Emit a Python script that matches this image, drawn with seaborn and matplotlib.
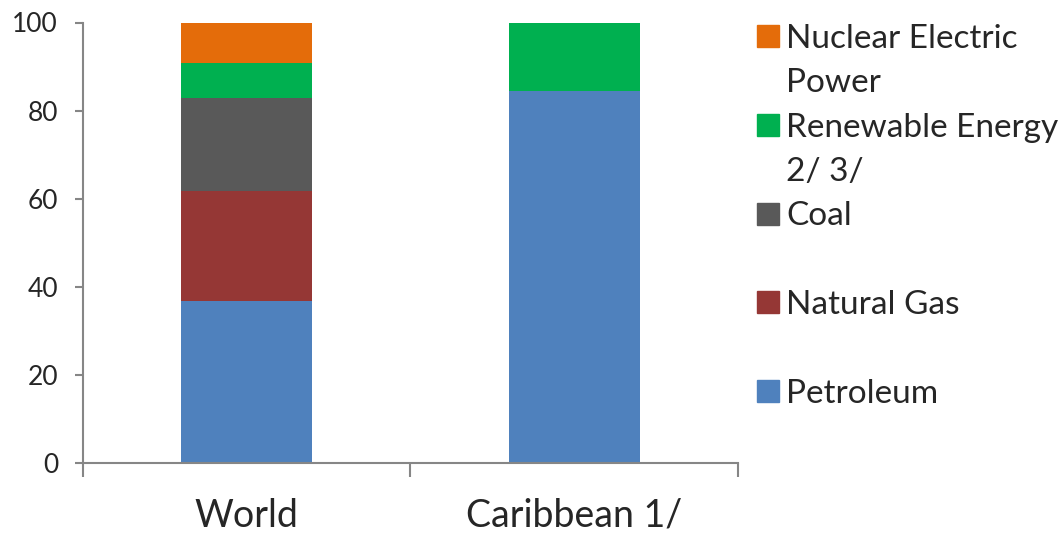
import numpy as np
import pandas as pd
import matplotlib
matplotlib.use("Agg")
import matplotlib.pyplot as plt
import seaborn as sns
from matplotlib.patches import Patch

# Energy consumption shares (%)
regions = ["World", "Caribbean 1/"]
petroleum = [36.8, 84.5]
natural_gas = [24.9, 0.0]
coal = [21.2, 0.0]
renewable = [7.8, 15.5]
nuclear = [9.3, 0.0]

colors = ["#4F81BD", "#953735", "#595959", "#00B050", "#E46C0A"]

df = pd.DataFrame({
    "region": regions,
    "Petroleum": petroleum,
    "Natural Gas": natural_gas,
    "Coal": coal,
    "Renewable": renewable,
    "Nuclear": nuclear,
})
layers = ["Petroleum", "Natural Gas", "Coal", "Renewable", "Nuclear"]
cum = df[layers].cumsum(axis=1)
cum["region"] = df["region"]

sns.set_style("white")
plt.rcParams["font.family"] = ["Lato", "DejaVu Sans"]

fig = plt.figure(figsize=(10.63, 5.33), dpi=100)
ax = fig.add_axes([83 / 1063, 70 / 533, 655 / 1063, 440.5 / 533])

# stacked bars: draw cumulative totals from the top layer down
for layer, col in reversed(list(zip(layers, colors))):
    sns.barplot(data=cum, x="region", y=layer, color=col, saturation=1,
                width=0.4, linewidth=0, ax=ax, errorbar=None)

ax.set_xlim(-0.5, 1.5)
ax.set_ylim(0, 100)
ax.set_yticks([0, 20, 40, 60, 80, 100])
ax.set_xlabel("")
ax.set_ylabel("")

# category boundary ticks as major, labels on minor
ax.set_xticks([-0.5, 0.5, 1.5])
ax.set_xticklabels([])
ax.set_xticks([0, 1], minor=True)
ax.set_xticklabels(regions, minor=True)
ax.tick_params(axis="x", which="major", direction="out", length=10, width=1.5,
               color="#868686", bottom=True)
ax.tick_params(axis="x", which="minor", length=0, pad=25, labelsize=27)
ax.tick_params(axis="y", direction="out", length=6, width=1.5, color="#868686",
               left=True, pad=12, labelsize=19)

for s in ["top", "right"]:
    ax.spines[s].set_visible(False)
for s in ["left", "bottom"]:
    ax.spines[s].set_color("#868686")
    ax.spines[s].set_linewidth(1.5)

# legend: one row per text line, blank rows keep the spacing even
blank = Patch(facecolor="none", edgecolor="none")
handles = [Patch(color=colors[4]), blank,
           Patch(color=colors[3]), blank,
           Patch(color=colors[2]), blank,
           Patch(color=colors[1]), blank,
           Patch(color=colors[0])]
labels = ["Nuclear Electric", "Power",
          "Renewable Energy", "2/ 3/",
          "Coal", " ",
          "Natural Gas", " ",
          "Petroleum"]
fig.legend(handles, labels, loc="upper left",
           bbox_to_anchor=(757 / 1063, 1 - 24 / 533),
           frameon=False, fontsize=24, borderpad=0, borderaxespad=0,
           handlelength=0.65, handleheight=0.65, handletextpad=0.22,
           labelspacing=0.43)

fig.savefig("out.png", dpi=100)
